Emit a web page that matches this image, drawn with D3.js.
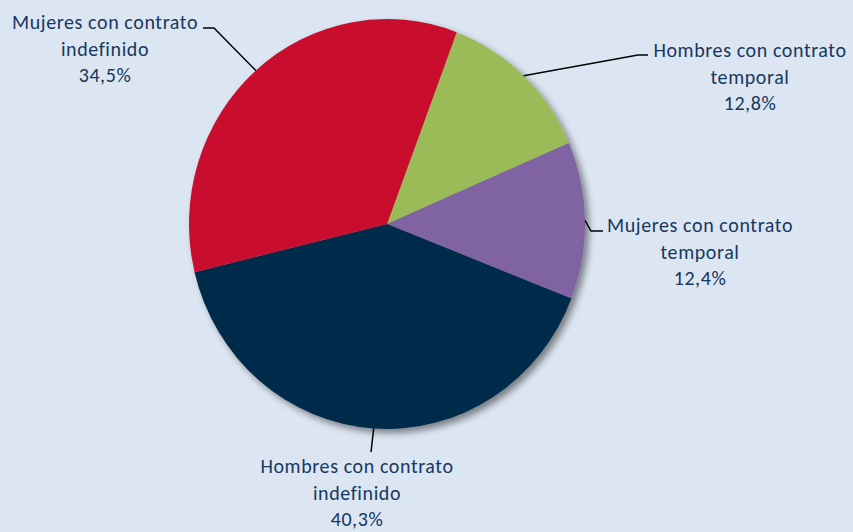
<!DOCTYPE html>
<html>
<head>
<meta charset="utf-8">
<script src="https://cdn.jsdelivr.net/npm/d3@7"></script>
<style>
  body { margin: 0; background: #dce6f2; }
  svg { display: block; }
</style>
</head>
<body>
<script>
// chart values
var categorias = ["Hombres con contrato temporal", "Mujeres con contrato temporal",
                  "Hombres con contrato indefinido", "Mujeres con contrato indefinido"];
var porcentajes = [12.8, 12.4, 40.3, 34.5];
var colores = ["#9bbb59", "#8064a2", "#012a48", "#c8102e"];

// label layout: text centre, first baseline, leader elbow and end
var etiquetas = [
  {lineas: ["Hombres con contrato", "temporal"], x: 750, y: 57, codo: [638, 55], fin: [648, 55]},
  {lineas: ["Mujeres con contrato", "temporal"], x: 700, y: 232, codo: [591, 231], fin: [603, 231]},
  {lineas: ["Hombres con contrato", "indefinido"], x: 357, y: 473, codo: [371, 452], fin: [371, 452]},
  {lineas: ["Mujeres con contrato", "indefinido"], x: 105, y: 29, codo: [214, 28], fin: [203, 28]}
];

var width = 853, height = 532;
var cx = 387, cy = 224, radius = 198, sy = 1.035;
var lineH = 26.5;

var svg = d3.select("body").append("svg")
    .attr("width", width)
    .attr("height", height);

svg.append("rect").attr("width", width).attr("height", height).attr("fill", "#dce6f2");

var defs = svg.append("defs");
var f = defs.append("filter").attr("id", "sombra")
    .attr("x", "-20%").attr("y", "-20%").attr("width", "140%").attr("height", "140%");
f.append("feDropShadow")
    .attr("dx", 4).attr("dy", 4).attr("stdDeviation", 3.5)
    .attr("flood-color", "#000").attr("flood-opacity", 0.45);

var data = categorias.map(function(c, i) { return {cat: c, v: porcentajes[i], i: i}; });

var start = 20.6 * Math.PI / 180;
var pie = d3.pie()
    .sort(null)
    .value(function(d) { return d.v; })
    .startAngle(start)
    .endAngle(start + 2 * Math.PI);

var arc = d3.arc().innerRadius(0).outerRadius(radius);
var arcs = pie(data);

var g = svg.append("g")
    .attr("transform", "translate(" + cx + "," + cy + ") scale(1," + sy + ")")
    .attr("filter", "url(#sombra)");

g.selectAll("path")
    .data(arcs)
    .enter().append("path")
    .attr("d", arc)
    .attr("fill", function(d) { return colores[d.data.i]; });

// leader lines start at the middle of each slice's edge
var lineGen = d3.line();
svg.selectAll(".guia")
    .data(arcs)
    .enter().append("path")
    .attr("class", "guia")
    .attr("fill", "none")
    .attr("stroke", "#000")
    .attr("stroke-width", 1.5)
    .attr("d", function(d) {
        var a = (d.startAngle + d.endAngle) / 2;
        var p0 = [cx + radius * Math.sin(a), cy - radius * sy * Math.cos(a)];
        var e = etiquetas[d.data.i];
        return lineGen([p0, e.codo, e.fin]);
    });

// labels
var lab = svg.selectAll(".etiqueta")
    .data(arcs)
    .enter().append("text")
    .attr("class", "etiqueta")
    .attr("text-anchor", "middle")
    .attr("fill", "#17375e")
    .style("font-family", "Carlito, Lato, 'Open Sans', sans-serif")
    .style("font-size", "20px")
    .style("letter-spacing", "0.6px");

lab.each(function(d) {
    var e = etiquetas[d.data.i];
    var t = d3.select(this);
    var lines = e.lineas.concat([d3.format(".1f")(d.data.v).replace(".", ",") + "%"]);
    lines.forEach(function(l, k) {
        t.append("tspan")
            .attr("x", e.x)
            .attr("y", e.y + k * lineH)
            .text(l);
    });
});
</script>
</body>
</html>
